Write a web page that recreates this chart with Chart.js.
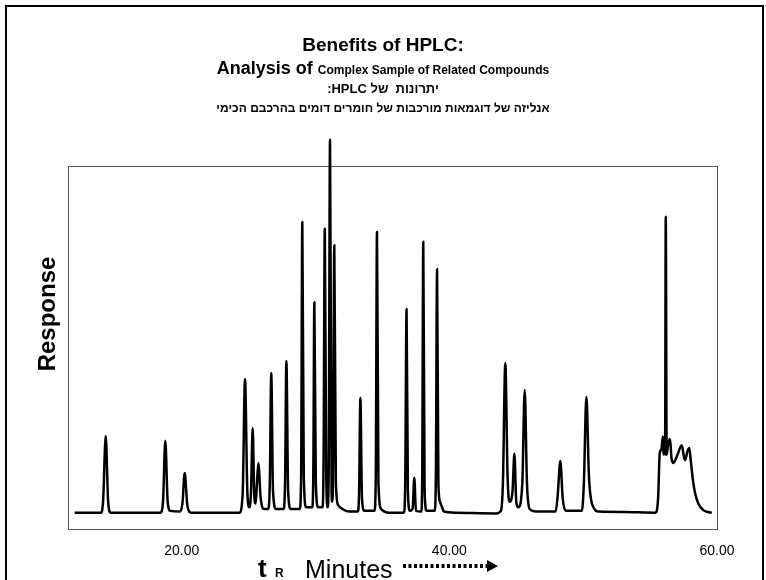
<!DOCTYPE html>
<html>
<head>
<meta charset="utf-8">
<title>Benefits of HPLC</title>
<script src="https://cdn.jsdelivr.net/npm/chart.js@4"></script>
<style>
  html, body { margin: 0; padding: 0; background: #fff; }
  #wrap { width: 766px; height: 580px; }
</style>
</head>
<body>
<div id="wrap"><canvas id="hplcChart" width="766" height="580"></canvas></div>
<script>
// Chromatogram trace: retention time (minutes) and detector response
const retentionTimes = [
    12.0, 13.95,
    14.12, 14.32, 14.5, 14.7,
    18.4, 18.6, 18.77, 18.95, 19.15,
    19.85, 20.05, 20.22, 20.42, 20.7,
    24.3, 24.55, 24.73, 24.9, 25.05,
    25.18, 25.30, 25.42, 25.52,
    25.62, 25.72, 25.9, 26.15,
    26.45, 26.58, 26.69, 26.82, 27.05,
    27.6, 27.72, 27.82, 27.95, 28.15,
    28.82, 28.92, 29.01, 29.12, 29.3,
    29.75, 29.83, 29.91, 30.02, 30.2,
    30.52, 30.6, 30.69, 30.8, 30.9,
    30.98, 31.08, 31.2, 31.25,
    31.32, 31.40, 31.52, 31.7, 32.1, 32.5,
    33.15, 33.25, 33.35, 33.47, 33.65,
    34.4, 34.5, 34.59, 34.7, 34.9, 35.5,
    36.6, 36.7, 36.80, 36.9, 37.05,
    37.25, 37.38, 37.5,
    37.9, 37.97, 38.05, 38.15, 38.3,
    38.9, 38.99, 39.08, 39.18, 39.3, 39.4, 39.6,
    40.5, 43.5, 43.85,
    44.0, 44.18, 44.35, 44.5,
    44.72, 44.86, 45.0, 45.15,
    45.45, 45.63, 45.8, 46.0, 46.5,
    47.95, 48.1, 48.29, 48.47, 48.7,
    49.9, 50.05, 50.24, 50.43, 50.7, 51.2,
    53.0, 55.4,
    55.6, 55.72, 55.85, 55.95, 56.0, 56.07, 56.12, 56.17, 56.24, 56.35, 56.49, 56.6, 56.74,
    57.0, 57.37, 57.5, 57.61, 57.8, 57.93, 58.05, 58.2, 58.36, 58.6, 58.98, 59.3, 59.61
];
const responses = [
    0, 0,
    3, 21.1, 3, 0,
    0, 3, 19.8, 3, 0.5,
    0.3, 2.5, 10.9, 2, 0,
    0, 5, 36.8, 6, 1.5,
    6, 23.3, 5, 2.5,
    8, 13.7, 4, 1,
    1, 8, 38.5, 6, 1,
    1, 8, 41.8, 6, 1,
    1, 10, 80.1, 10, 1.5,
    1.5, 10, 58.0, 8, 1.5,
    1.5, 15, 78.2, 10, 1.5,
    10, 102.7, 5, 3,
    15, 73.7, 8, 2, 0.8, 0.3,
    0.3, 5, 31.6, 4, 0.5,
    0.5, 10, 77.3, 8, 1, 0,
    0, 8, 56.1, 6, 0.5,
    1, 9.6, 0.5,
    0.3, 10, 74.6, 6, 0.5,
    0.5, 10, 67.1, 8, 3, 2, 0.3,
    0, -0.2, 0.5,
    8, 41.2, 10, 3,
    6, 16.2, 3, 1.5,
    8, 33.8, 8, 1, 0.3,
    0.3, 5, 14.2, 4, 0.5,
    0.5, 8, 31.9, 10, 2, 0.3,
    0.2, 0,
    4, 16.4, 17.5, 21, 16, 21, 16, 81.5, 16, 19, 20.3, 15, 13.7,
    15.5, 18.6, 16, 14.5, 17, 17.8, 14, 9, 5.4, 2.5, 0.7, 0.2, 0
];
const xTickValues = [20, 40, 60];

const FONT = "'Liberation Sans', Arial, sans-serif";

// Title, axis captions and frames are drawn straight on the canvas
const decorations = {
    id: 'decorations',
    beforeDatasetsDraw(chart) {
        const { ctx, chartArea } = chart;
        ctx.save();
        // outer slide border
        ctx.strokeStyle = '#000';
        ctx.lineWidth = 2;
        ctx.strokeRect(6, 6, 757, 620);
        // plot frame
        ctx.strokeStyle = '#555';
        ctx.lineWidth = 1;
        ctx.strokeRect(chartArea.left + 0.5, chartArea.top + 0.5,
            chartArea.right - chartArea.left, chartArea.bottom - chartArea.top);
        ctx.restore();
    },
    afterDraw(chart) {
        const { ctx } = chart;
        const cx = 383;
        ctx.save();
        ctx.fillStyle = '#000';
        ctx.textBaseline = 'alphabetic';

        ctx.textAlign = 'center';
        ctx.font = 'bold 19px ' + FONT;
        ctx.fillText('Benefits of HPLC:', cx, 51);

        // mixed sizes on the second line
        const parts = [
            { text: 'Analysis of ', font: 'bold 18px ' + FONT },
            { text: 'Complex Sample of Related Compounds', font: 'bold 12px ' + FONT }
        ];
        let total = 0;
        parts.forEach(p => { ctx.font = p.font; p.w = ctx.measureText(p.text).width; total += p.w; });
        let x = cx - total / 2;
        ctx.textAlign = 'left';
        parts.forEach(p => { ctx.font = p.font; ctx.fillText(p.text, x, 74); x += p.w; });

        ctx.textAlign = 'center';
        ctx.direction = 'rtl';
        ctx.font = 'bold 13px ' + FONT;
        ctx.fillText('יתרונות  של HPLC:', cx, 93);
        ctx.font = 'bold 12px ' + FONT;
        ctx.fillText('אנליזה של דוגמאות מורכבות של חומרים דומים בהרכבם הכימי', cx, 112);
        ctx.direction = 'ltr';

        // y axis caption
        ctx.save();
        ctx.translate(55, 314);
        ctx.rotate(-Math.PI / 2);
        ctx.font = 'bold 24px ' + FONT;
        ctx.textAlign = 'center';
        ctx.fillText('Response', 0, 0);
        ctx.restore();

        // x axis caption: t_R  Minutes  ........>
        ctx.textAlign = 'left';
        ctx.font = 'bold 26px ' + FONT;
        ctx.fillText('t', 258, 577);
        ctx.font = 'bold 12px ' + FONT;
        ctx.fillText('R', 275, 577);
        ctx.font = '25px ' + FONT;
        ctx.fillText('Minutes', 305, 578);

        ctx.strokeStyle = '#000';
        ctx.lineWidth = 4;
        ctx.setLineDash([3, 2.5]);
        ctx.beginPath();
        ctx.moveTo(403, 566);
        ctx.lineTo(488, 566);
        ctx.stroke();
        ctx.setLineDash([]);
        ctx.beginPath();
        ctx.moveTo(487, 560);
        ctx.lineTo(498, 566);
        ctx.lineTo(487, 572);
        ctx.closePath();
        ctx.fill();
        ctx.restore();
    }
};

const ctx = document.getElementById('hplcChart').getContext('2d');
const hplcChart = new Chart(ctx, {
    type: 'line',
    data: {
        datasets: [{
            data: retentionTimes.map((t, i) => ({ x: t, y: responses[i] })),
            borderColor: '#000',
            borderWidth: 2.5,
            pointRadius: 0,
            cubicInterpolationMode: 'monotone',
            borderJoinStyle: 'round',
            clip: false
        }]
    },
    options: {
        responsive: false,
        animation: false,
        devicePixelRatio: 1,
        layout: { padding: { left: 68, right: 49, top: 166, bottom: 0 } },
        scales: {
            x: {
                type: 'linear',
                min: 11.5,
                max: 60,
                grid: { display: false, drawTicks: false },
                border: { display: false },
                afterBuildTicks: scale => { scale.ticks = xTickValues.map(v => ({ value: v })); },
                afterFit: scale => { scale.height = 51; },
                ticks: {
                    color: '#000',
                    padding: 14,
                    maxRotation: 0,
                    autoSkip: false,
                    font: { family: FONT, size: 14 },
                    callback: v => Number(v).toFixed(2)
                }
            },
            y: {
                display: false,
                min: -4.5,
                max: 95.5
            }
        },
        plugins: {
            legend: { display: false },
            tooltip: { enabled: false }
        }
    },
    plugins: [decorations]
});
</script>
</body>
</html>
